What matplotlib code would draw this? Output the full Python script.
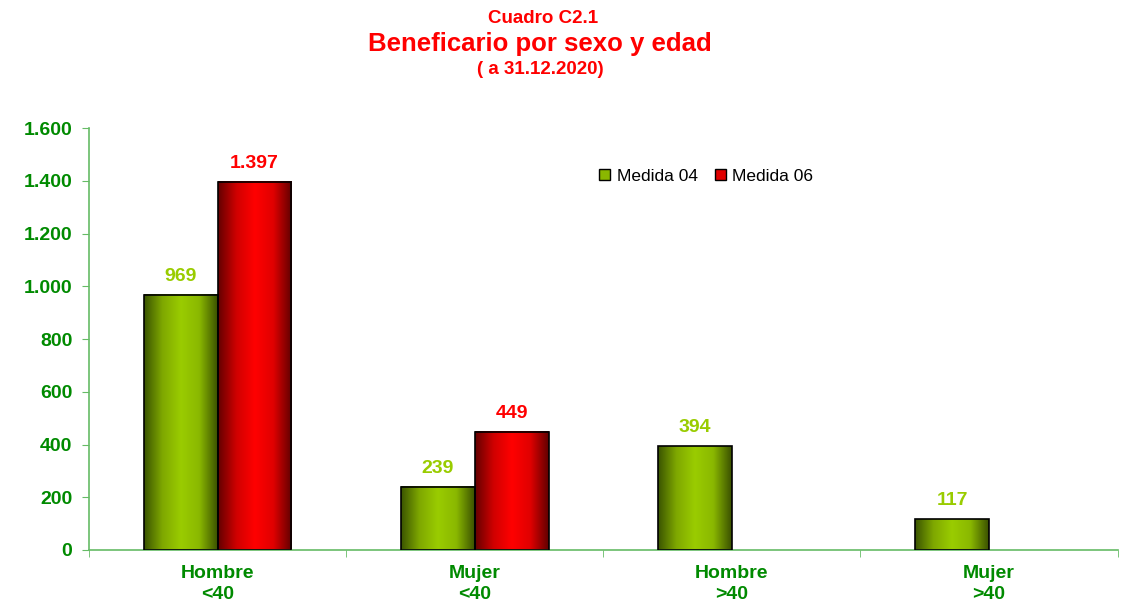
import numpy as np
import matplotlib.pyplot as plt
from matplotlib.colors import LinearSegmentedColormap

plt.rcParams['font.family'] = ['Liberation Sans', 'DejaVu Sans']

categorias = ['Hombre\n<40', 'Mujer\n<40', 'Hombre\n>40', 'Mujer\n>40']
medida_04 = [969, 239, 394, 117]
medida_06 = [1397, 449, None, None]
series = ['Medida 04', 'Medida 06']

verde_txt = '#008a00'
cmap_verde = LinearSegmentedColormap.from_list(
    'v', ['#3a5400', '#7fa800', '#9acc00', '#8ab800', '#3a5000'])
cmap_rojo = LinearSegmentedColormap.from_list(
    'r', ['#640000', '#d00000', '#ff0000', '#e00000', '#600000'])

def fmt(v):
    return '{:,}'.format(int(v)).replace(',', '.')

fig = plt.figure(figsize=(11.3, 6.02), dpi=100)
ax = fig.add_axes([0.0788, 0.0864, 0.9102, 0.7006])

grad = np.linspace(0, 1, 256).reshape(1, -1)
x = np.arange(len(categorias))
w = 0.287

def barra(xc, h, cmap, color_lbl):
    x0 = xc - w / 2
    ax.imshow(grad, extent=[x0, x0 + w, 0, h], aspect='auto', cmap=cmap,
              zorder=2, interpolation='bicubic')
    ax.bar(xc, h, w, facecolor='none', edgecolor='black', linewidth=1.2, zorder=3)
    ax.annotate(fmt(h), (xc, h), xytext=(0, 7), textcoords='offset points',
                ha='center', va='bottom', fontsize=14, fontweight='bold',
                color=color_lbl)

for i in range(len(categorias)):
    barra(x[i] - w / 2, medida_04[i], cmap_verde, '#99cc00')
    if medida_06[i] is not None:
        barra(x[i] + w / 2, medida_06[i], cmap_rojo, '#ff0000')

ax.set_xlim(-0.5, len(categorias) - 0.5)
ax.set_ylim(0, 1600)
ax.set_yticks(np.arange(0, 1601, 200))
ax.set_yticklabels([fmt(v) for v in np.arange(0, 1601, 200)])
ax.set_xticks(x)
ax.set_xticklabels(categorias)
ax.set_xticks(np.arange(-0.5, len(categorias)), minor=True)
ax.tick_params(axis='x', which='major', length=0, pad=11)
ax.tick_params(axis='x', which='minor', length=5, color='#66bb66', direction='out')
ax.tick_params(axis='y', length=5, color='#66bb66', pad=7)
for lbl in ax.get_xticklabels() + ax.get_yticklabels():
    lbl.set_fontsize(14)
    lbl.set_fontweight('bold')
    lbl.set_color(verde_txt)
for lbl in ax.get_xticklabels():
    lbl.set_linespacing(1.25)

for s in ['top', 'right']:
    ax.spines[s].set_visible(False)
for s in ['left', 'bottom']:
    ax.spines[s].set_color('#66bb66')
    ax.spines[s].set_linewidth(1.2)

h1 = plt.Rectangle((0, 0), 1, 1, facecolor='#8ab800', edgecolor='black')
h2 = plt.Rectangle((0, 0), 1, 1, facecolor='#e00000', edgecolor='black')
ax.legend([h1, h2], series, loc='center left', bbox_to_anchor=(0.481, 0.886),
          ncol=2, frameon=False, fontsize=12.5, handlelength=0.6,
          handleheight=0.6, handletextpad=0.4, columnspacing=1.0)

fig.text(0.481, 0.97, 'Cuadro C2.1', ha='center', va='center', fontsize=13.5,
         fontweight='bold', color='red')
fig.text(0.478, 0.927, 'Beneficario por sexo y edad', ha='center', va='center',
         fontsize=18.5, fontweight='bold', color='red')
fig.text(0.478, 0.885, '( a 31.12.2020)', ha='center', va='center', fontsize=13.5,
         fontweight='bold', color='red')

fig.savefig('out.png', dpi=100)
